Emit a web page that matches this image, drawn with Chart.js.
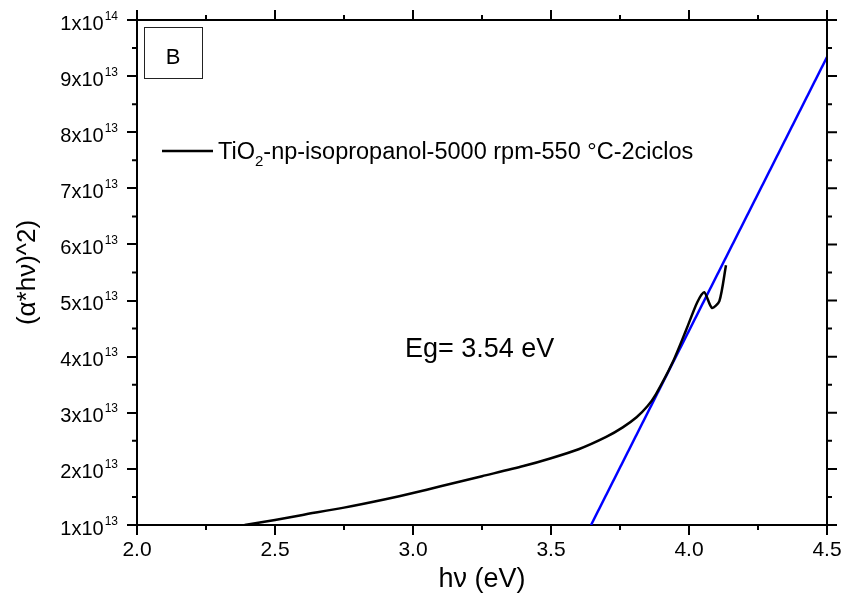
<!DOCTYPE html>
<html>
<head>
<meta charset="utf-8">
<script src="https://cdn.jsdelivr.net/npm/chart.js@4.4.0/dist/chart.umd.min.js"></script>
<style>
  html, body { margin: 0; padding: 0; background: #fff; }
  #chart { display: block; }
</style>
</head>
<body>
<canvas id="chart" width="846" height="604"></canvas>
<script>
const FONT = '"Liberation Sans", Arial, sans-serif';

const sampleEnergy = [2.39, 2.5, 2.6, 2.75, 2.9, 3.0, 3.1, 3.25, 3.4, 3.5, 3.6, 3.7, 3.76, 3.81, 3.85, 3.88, 3.94, 3.99, 4.03, 4.055, 4.083, 4.11, 4.134];
const sampleAbs = [1.0e13, 1.09e13, 1.18e13, 1.31e13, 1.46e13, 1.57e13, 1.69e13, 1.87e13, 2.05e13, 2.19e13, 2.35e13, 2.57e13, 2.74e13, 2.92e13, 3.12e13, 3.33e13, 3.89e13, 4.48e13, 4.97e13, 5.15e13, 4.87e13, 4.99e13, 5.63e13];

// linear fit for the band gap
const fitEnergy = [3.645, 4.5];
const fitAbs = [1.0e13, 9.34e13];

const xMin = 2.0, xMax = 4.5, xStep = 0.5;
const yMin = 1e13, yMax = 1e14, yStep = 1e13;

const legendParts = ["TiO", "2", "-np-isopropanol-5000 rpm-550 °C-2ciclos"];
const gapLabel = "Eg= 3.54 eV";
const panelLabel = "B";

function toPoints(xs, ys) {
  return xs.map((x, i) => ({ x: x, y: ys[i] }));
}

function supLabel(v) {
  const exp = Math.floor(Math.log10(v) + 1e-9);
  const mant = Math.round(v / Math.pow(10, exp));
  return { base: mant + "x10", exp: String(exp) };
}

const decor = {
  id: "decor",
  afterDraw(chart) {
    const { ctx, chartArea: a, scales: { x, y } } = chart;
    ctx.save();
    ctx.strokeStyle = "#000";
    ctx.fillStyle = "#000";
    ctx.lineWidth = 2;

    // top and right axis lines
    ctx.beginPath();
    ctx.moveTo(a.left - 1, a.top);
    ctx.lineTo(a.right + 1, a.top);
    ctx.moveTo(a.right, a.top);
    ctx.lineTo(a.right, a.bottom);
    ctx.stroke();

    // ticks on all sides
    const xt = x.ticks.map(t => t.value);
    const yt = y.ticks.map(t => t.value);
    ctx.beginPath();
    xt.forEach((v, i) => {
      const px = x.getPixelForValue(v);
      ctx.moveTo(px, a.top);
      ctx.lineTo(px, a.top - 10);
      if (i < xt.length - 1) {
        const mx = x.getPixelForValue((v + xt[i + 1]) / 2);
        ctx.moveTo(mx, a.top);
        ctx.lineTo(mx, a.top - 5);
        ctx.moveTo(mx, a.bottom);
        ctx.lineTo(mx, a.bottom + 5);
      }
    });
    yt.forEach((v, i) => {
      const py = y.getPixelForValue(v);
      ctx.moveTo(a.right, py);
      ctx.lineTo(a.right + 10, py);
      if (i < yt.length - 1) {
        const my = y.getPixelForValue((v + yt[i + 1]) / 2);
        ctx.moveTo(a.right, my);
        ctx.lineTo(a.right + 5, my);
        ctx.moveTo(a.left, my);
        ctx.lineTo(a.left - 5, my);
      }
    });
    ctx.stroke();

    // y tick labels with superscript
    ctx.textAlign = "right";
    ctx.textBaseline = "alphabetic";
    yt.forEach(v => {
      const py = y.getPixelForValue(v);
      const lab = supLabel(v);
      ctx.font = "12px " + FONT;
      const w = ctx.measureText(lab.exp).width;
      ctx.fillText(lab.exp, 118, py - 0.5);
      ctx.font = "20px " + FONT;
      ctx.fillText(lab.base, 118 - w - 1, py + 9.5);
    });

    // panel box
    ctx.lineWidth = 1;
    ctx.strokeStyle = "#222";
    ctx.strokeRect(144.5, 27.5, 58, 51);
    ctx.textAlign = "center";
    ctx.font = "22px " + FONT;
    ctx.fillText(panelLabel, 173, 64);

    // legend
    ctx.strokeStyle = "#000";
    ctx.lineWidth = 2.5;
    ctx.beginPath();
    ctx.moveTo(162, 151);
    ctx.lineTo(213, 151);
    ctx.stroke();
    ctx.textAlign = "left";
    let lx = 218;
    ctx.font = "23.5px " + FONT;
    ctx.fillText(legendParts[0], lx, 158.5);
    lx += ctx.measureText(legendParts[0]).width;
    ctx.font = "15px " + FONT;
    ctx.fillText(legendParts[1], lx, 166);
    lx += ctx.measureText(legendParts[1]).width;
    ctx.font = "23.5px " + FONT;
    ctx.fillText(legendParts[2], lx, 158.5);

    // band gap annotation
    ctx.font = "27px " + FONT;
    ctx.fillText(gapLabel, 405, 357);
    ctx.restore();
  }
};

new Chart(document.getElementById("chart"), {
  type: "line",
  data: {
    datasets: [
      {
        label: "TiO2-np-isopropanol-5000 rpm-550 °C-2ciclos",
        data: toPoints(sampleEnergy, sampleAbs),
        borderColor: "#000",
        borderWidth: 2.5,
        pointRadius: 0,
        tension: 0.25
      },
      {
        label: "fit",
        data: toPoints(fitEnergy, fitAbs),
        borderColor: "#0000ff",
        borderWidth: 2.5,
        pointRadius: 0,
        tension: 0
      }
    ]
  },
  options: {
    responsive: false,
    animation: false,
    layout: { padding: { top: 20, right: 19, left: 0, bottom: 0 } },
    plugins: { legend: { display: false }, tooltip: { enabled: false } },
    scales: {
      x: {
        type: "linear",
        min: xMin,
        max: xMax,
        afterFit: s => { s.height = 79; },
        ticks: {
          stepSize: xStep,
          color: "#000",
          font: { family: FONT, size: 21 },
          padding: 3,
          maxRotation: 0,
          callback: v => v.toFixed(1)
        },
        grid: { drawOnChartArea: false, color: "#000", lineWidth: 2, tickLength: 10 },
        border: { color: "#000", width: 2 },
        title: {
          display: true,
          text: "hν (eV)",
          color: "#000",
          font: { family: FONT, size: 27 },
          padding: { top: 0, bottom: 8 }
        }
      },
      y: {
        type: "linear",
        min: yMin,
        max: yMax,
        afterFit: s => { s.width = 137; },
        ticks: { stepSize: yStep, display: false },
        grid: { drawOnChartArea: false, color: "#000", lineWidth: 2, tickLength: 10 },
        border: { color: "#000", width: 2 },
        title: {
          display: true,
          text: "(α*hν)^2)",
          color: "#000",
          font: { family: FONT, size: 26 },
          padding: { top: 12, bottom: 0 }
        }
      }
    }
  },
  plugins: [decor]
});
</script>
</body>
</html>
